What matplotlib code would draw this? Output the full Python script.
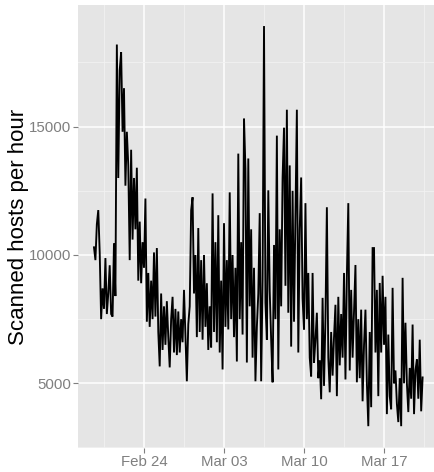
import numpy as np
import matplotlib
matplotlib.use("Agg")
import matplotlib.pyplot as plt
import matplotlib.dates as mdates

plt.rcParams["font.family"] = ["Liberation Sans", "DejaVu Sans"]

# scanned hosts, one value every 3 hours from 2015-02-19 15:00
hosts = [
    10300, 9800, 11200,                                        # Feb 19
    11750, 10100, 7500, 8700, 7900, 9880, 7700, 8500,          # Feb 20
    9600, 7700, 7600, 10460, 8400, 18200, 13000, 17200,        # Feb 21
    17900, 14800, 16500, 12700, 14800, 13500, 9800, 14100,     # Feb 22
    10600, 13000, 11000, 13400, 9000, 11300, 8900, 10500,      # Feb 23
    9500, 12200, 7400, 9300, 7200, 9000, 7500, 10100,          # Feb 24
    7600, 10270, 7000, 5660, 8500, 6300, 8000, 6500,           # Feb 25
    8200, 6800, 5620, 7500, 8370, 6200, 7900, 6100,            # Feb 26
    7800, 6200, 7500, 6600, 8640, 6900, 5080, 7300,            # Feb 27
    8000, 11740, 12250, 8500, 10000, 6800, 11050, 7000,        # Feb 28
    9800, 6700, 10000, 7200, 8900, 6300, 8000, 6400,           # Mar 01
    12400, 7000, 10500, 6600, 11550, 6200, 9000, 5540,         # Mar 02
    11240, 7200, 9800, 7100, 12440, 7500, 10000, 6800,         # Mar 03
    9500, 5850, 13950, 7500, 10500, 6900, 15310, 13370,        # Mar 04
    5810, 13760, 8000, 11000, 6000, 9500, 5080, 7200,          # Mar 05
    8500, 11630, 5080, 9000, 18920, 8140, 6700, 12520,         # Mar 06
    8600, 6700, 5040, 10390, 7500, 14650, 5540, 11000,         # Mar 07
    8000, 13000, 14960, 8800, 15660, 7750, 13490, 6430,        # Mar 08
    12500, 7400, 11500, 15660, 6200, 11000, 13020, 8300,       # Mar 09
    7100, 12020, 7500, 9300, 6000, 5270, 9300, 5800,           # Mar 10
    6700, 7750, 5200, 5900, 4380, 8330, 4900, 7500,            # Mar 11
    11860, 6000, 4650, 7000, 5300, 6800, 8060, 4500,           # Mar 12
    8370, 5700, 7700, 6000, 9300, 5150, 9200, 12020,           # Mar 13
    5500, 8640, 6000, 7800, 9610, 5040, 7500, 5200,            # Mar 14
    7870, 4300, 6500, 7870, 5000, 3330, 7000, 4070,            # Mar 15
    10270, 10270, 6200, 8640, 4500, 8910, 6200, 9190,          # Mar 16
    6500, 8370, 3800, 6900, 4500, 3990, 8720, 5000,            # Mar 17
    5500, 4200, 3490, 5200, 3330, 9110, 5000, 7360,            # Mar 18
    5000, 3880, 5600, 4400, 7290, 3800, 5500, 5930,            # Mar 19
    4400, 6700, 3910, 5230,                                    # Mar 20
]
start = np.datetime64("2015-02-19T15:00")
times = start + np.arange(len(hosts)) * np.timedelta64(3, "h")

x_ticks = ["2015-02-24", "2015-03-03", "2015-03-10", "2015-03-17"]
x_labels = ["Feb 24", "Mar 03", "Mar 10", "Mar 17"]
y_ticks = [5000, 10000, 15000]

fig = plt.figure(figsize=(4.35, 4.72), dpi=100)
ax = fig.add_axes([78 / 435, 1 - 448 / 472, 357 / 435, 443 / 472])
ax.set_facecolor("#E5E5E5")

ax.plot(times.astype("datetime64[m]").astype(object), hosts, color="black",
        lw=1.35, solid_joinstyle="miter")

base = np.datetime64("2015-02-19T00:00")
ax.set_xlim(mdates.date2num((base + np.timedelta64(int(-0.774 * 1440), "m")).astype(object)),
            mdates.date2num((base + np.timedelta64(int(30.46 * 1440), "m")).astype(object)))
ax.set_ylim(2480, 19740)

major = [mdates.date2num(np.datetime64(d).astype(object)) for d in x_ticks]
minor = [m - 3.5 for m in major] + [major[-1] + 3.5]
ax.set_xticks(major)
ax.set_xticklabels(x_labels)
ax.set_xticks(minor, minor=True)
ax.set_yticks(y_ticks)
ax.set_yticklabels([str(v) for v in y_ticks])
ax.set_yticks([2500, 7500, 12500, 17500], minor=True)

ax.grid(which="major", color="white", lw=1.1)
ax.grid(which="minor", color="#F2F2F2", lw=0.6)
ax.set_axisbelow(True)
for s in ax.spines.values():
    s.set_visible(False)

ax.tick_params(which="major", length=3.4, width=0.8, color="#7F7F7F",
               labelcolor="#7F7F7F", labelsize=10.8, pad=1.6)
ax.tick_params(which="minor", length=0)

fig.text(19 / 435, 1 - 226.5 / 472, "Scanned hosts per hour", rotation=90,
         ha="center", va="center", fontsize=16, color="black")

fig.savefig("out.png", dpi=100)
